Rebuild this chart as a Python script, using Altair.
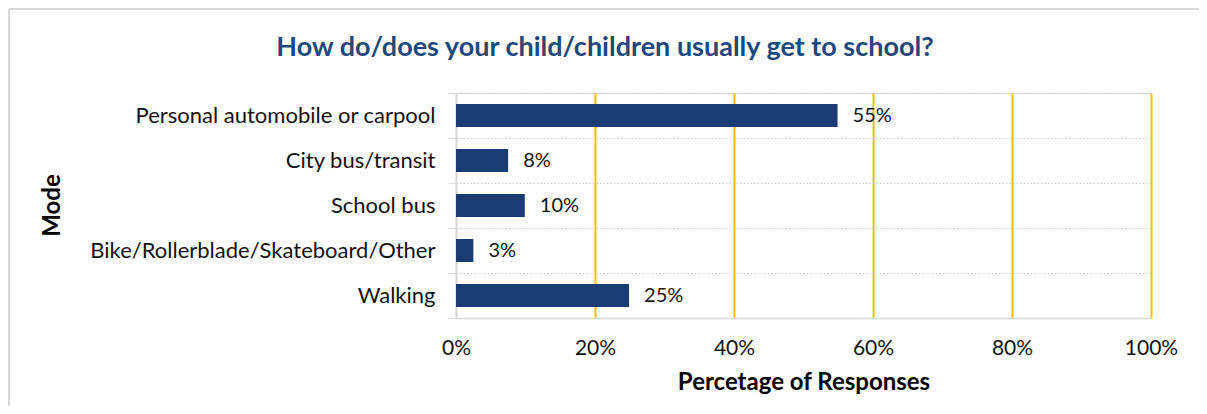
import altair as alt
import pandas as pd

modes = ["Personal automobile or carpool", "City bus/transit", "School bus",
         "Bike/Rollerblade/Skateboard/Other", "Walking"]
shares = [0.549, 0.075, 0.099, 0.025, 0.249]
labels = ["55%", "8%", "10%", "3%", "25%"]
x_ticks = [0, 0.2, 0.4, 0.6, 0.8, 1.0]

df = pd.DataFrame({"Mode": modes, "Share": shares, "Label": labels})

FONT = "Lato"
BAR = "#1a3c73"
FRAME = "#d9d9d9"

y_enc = alt.Y("Mode:N", sort=modes,
              scale=alt.Scale(paddingInner=0, paddingOuter=0),
              axis=alt.Axis(title="Mode", titleFontSize=24, titleFontWeight="bold",
                            titleColor="#000000", titleFont=FONT,
                            titleX=-392, titleY=112, titleAngle=270,
                            titleAlign="center", titleBaseline="bottom",
                            labelFont=FONT, labelFontSize=22, labelColor="#111111",
                            labelLimit=500, labelPadding=13, tickBand="extent", tickSize=8,
                            tickColor="#d9d9d9", domainColor="#d9d9d9", domainWidth=1.5,
                            grid=True, gridColor="#c8c8c8", gridDash=[1.5, 2], gridWidth=1))

x_enc = alt.X("Share:Q", scale=alt.Scale(domain=[0, 1], nice=False),
              axis=alt.Axis(values=x_ticks, format=".0%", title="Percetage of Responses",
                            titleFontSize=24, titleFontWeight="bold", titleColor="#000000",
                            titleFont=FONT, titlePadding=12,
                            labelFont=FONT, labelFontSize=21, labelColor="#111111",
                            labelFlush=False, labelPadding=19, tickSize=0,
                            domainColor="#d9d9d9", domainWidth=1.5, grid=True,
                            gridColor={"expr": "datum.value == 0 ? '#d9d9d9' : '#FFC000'"},
                            gridWidth=2))

bars = alt.Chart(df).mark_bar(color=BAR, height={"band": 0.51}).encode(y=y_enc, x=x_enc)

text = alt.Chart(df).mark_text(align="left", baseline="middle", dx=15, font=FONT,
                               fontSize=20, color="#111111").encode(
    y=alt.Y("Mode:N", sort=modes), x=alt.X("Share:Q"), text="Label:N")

frame_top = alt.Chart(df).mark_rule(color=FRAME, strokeWidth=2).encode(
    x=alt.value(-447), x2=alt.value(745), y=alt.value(-84))
frame_left = alt.Chart(df).mark_rule(color=FRAME, strokeWidth=2).encode(
    x=alt.value(-447), y=alt.value(-84), y2=alt.value(315))

chart = alt.layer(frame_top, frame_left, bars, text).properties(
    width=695, height=225,
    title=alt.TitleParams("How do/does your child/children usually get to school?",
                          font=FONT, fontSize=27, fontWeight="bold", color="#1f497d",
                          anchor="middle", frame="bounds", offset=-54),
    autosize=alt.AutoSizeParams(type="none"),
    padding={"left": 448, "top": 85, "right": 48, "bottom": 88},
).configure_view(stroke=None).configure(background="white")

chart.save("out.html", embed_options={"renderer": "svg", "actions": False})
